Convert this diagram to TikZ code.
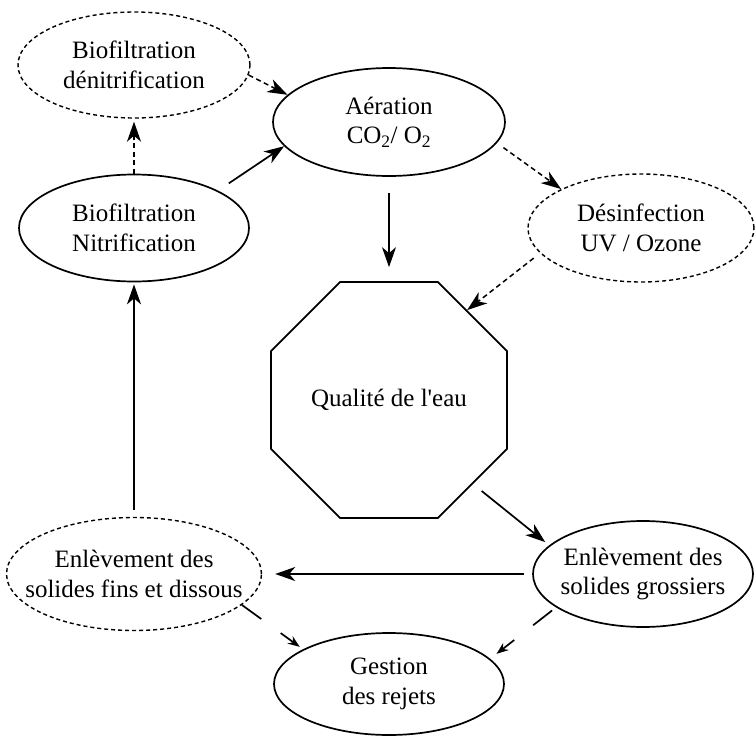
\documentclass[tikz,border=0pt]{standalone}
\usepackage{fontspec}
\setmainfont{Liberation Serif}
\usetikzlibrary{shapes.geometric,arrows.meta}
\begin{document}
\begin{tikzpicture}[x=1pt,y=-1pt,
  box/.style={ellipse, draw, line width=1.7pt, inner xsep=-30pt, inner ysep=0pt, align=center,
    font=\fontsize{25}{29.5}\selectfont},
  dbox/.style={box, line width=1.4pt, dash pattern=on 4pt off 3pt},
  big/.style={-{Stealth[length=20pt,width=14pt,inset=6pt]}, line width=1.7pt},
  dbig/.style={big, line width=1.5pt, dash pattern=on 5pt off 3.5pt},
  small/.style={-{Stealth[length=12pt,width=9pt,inset=4pt]}, line width=1.7pt,
    dash pattern=on 24pt off 24pt},
]
\useasboundingbox (0,0) rectangle (756,737);

\node[dbox, minimum width=232pt, minimum height=106pt] (denit) at (134,65) {Biofiltration\\dénitrification};
\node[box, minimum width=232pt, minimum height=108pt] (aer) at (389,122) {Aération\\CO\textsubscript{2}/ O\textsubscript{2}};
\node[box, minimum width=230pt, minimum height=107pt] (nitr) at (134,228) {Biofiltration\\Nitrification};
\node[dbox, minimum width=226pt, minimum height=108pt] (desinf) at (641,228) {Désinfection\\UV / Ozone};
\node[regular polygon, regular polygon sides=8, draw, line width=1.7pt,
  minimum size=255.4pt, inner sep=0pt, font=\fontsize{25}{29.5}\selectfont] (qual) at (389,400) {Qualité de l\textquotesingle eau};
\node[dbox, minimum width=255pt, minimum height=113pt] (fins) at (134,574) {Enlèvement des\\solides fins et dissous};
\node[box, minimum width=220pt, minimum height=106pt] (gros) at (643,574) {Enlèvement des\\solides grossiers};
\node[box, minimum width=230pt, minimum height=102pt] (gest) at (389,684) {Gestion\\des rejets};

\draw[dbig] (denit.-5) -- (aer.165);
\draw[dbig, shorten >=3pt] (nitr.north) -- (denit.south);
\draw[big, shorten <=13pt] (nitr.24) -- (aer.193);
\draw[big, shorten <=16pt, shorten >=14pt] (aer) -- (qual);
\draw[dbig, shorten <=8pt] (aer.-11) -- (desinf.154);
\draw[dbig, shorten <=8pt] (desinf.194) -- (qual.49);
\draw[big, shorten <=11pt, shorten >=5pt] (qual.-45) -- (gros.163);
\draw[big, shorten <=8pt, shorten >=13pt] (gros.west) -- (fins.east);
\draw[big, shorten <=7pt, shorten >=2pt] (fins.north) -- (nitr.south);
\draw[small, shorten >=4pt] (fins.-16) -- (gest.158);
\draw[small, shorten <=5pt, shorten >=8pt] (gros.201) -- (gest.14);
\end{tikzpicture}
\end{document}
